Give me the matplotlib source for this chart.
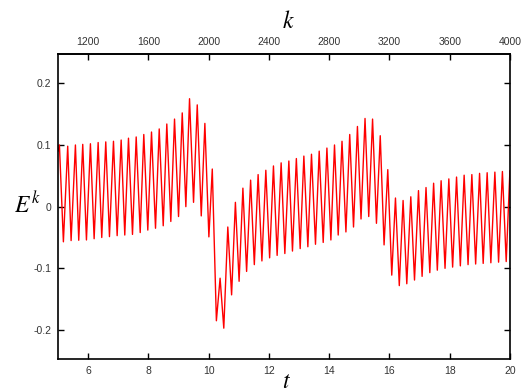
import numpy as np
import matplotlib
matplotlib.use('Agg')
import matplotlib.pyplot as plt

plt.rcParams['mathtext.fontset'] = 'stix'
plt.rcParams['font.family'] = ['Liberation Sans', 'DejaVu Sans']

# curve: start point, then the local maxima and minima
t_start = [5.0]
e_start = [0.090]

t_peak = [5.047, 5.322, 5.578, 5.821, 6.076, 6.332, 6.585, 6.841, 7.096, 7.339,
          7.595, 7.847, 8.103, 8.359, 8.611, 8.867, 9.123, 9.365, 9.621, 9.874,
          10.120, 10.379, 10.635, 10.887, 11.136, 11.392, 11.641, 11.897, 12.150, 12.405,
          12.661, 12.910, 13.159, 13.412, 13.668, 13.924, 14.176, 14.425, 14.681, 14.937,
          15.189, 15.439, 15.694, 15.944, 16.199, 16.452, 16.708, 16.963, 17.213, 17.465,
          17.714, 17.970, 18.226, 18.478, 18.734, 18.990, 19.242, 19.498, 19.748, 19.997]
e_peak = [0.100, 0.098, 0.100, 0.101, 0.102, 0.104, 0.105, 0.106, 0.108, 0.111,
          0.113, 0.117, 0.121, 0.126, 0.134, 0.142, 0.152, 0.175, 0.165, 0.135,
          0.061, -0.116, -0.033, 0.007, 0.030, 0.043, 0.052, 0.059, 0.066, 0.071,
          0.074, 0.078, 0.082, 0.085, 0.090, 0.095, 0.100, 0.106, 0.117, 0.130,
          0.143, 0.142, 0.115, 0.060, 0.014, 0.010, 0.016, 0.026, 0.031, 0.038,
          0.042, 0.045, 0.048, 0.051, 0.052, 0.054, 0.055, 0.056, 0.057, 0.058]

t_trough = [5.179, 5.435, 5.688, 5.944, 6.199, 6.452, 6.708, 6.963, 7.216, 7.472,
            7.728, 7.980, 8.236, 8.492, 8.744, 9.000, 9.243, 9.498, 9.754, 10.007,
            10.256, 10.502, 10.761, 11.010, 11.259, 11.515, 11.767, 12.023, 12.272, 12.528,
            12.781, 13.037, 13.292, 13.545, 13.801, 14.056, 14.299, 14.555, 14.807, 15.056,
            15.312, 15.568, 15.821, 16.076, 16.326, 16.575, 16.831, 17.083, 17.339, 17.588,
            17.844, 18.096, 18.352, 18.608, 18.860, 19.110, 19.365, 19.621, 19.874]
e_trough = [-0.057, -0.055, -0.0545, -0.054, -0.052, -0.050, -0.0486, -0.047, -0.046, -0.045,
            -0.042, -0.038, -0.035, -0.031, -0.024, -0.016, 0.000, 0.007, -0.015, -0.049,
            -0.185, -0.197, -0.143, -0.121, -0.105, -0.094, -0.088, -0.083, -0.079, -0.076,
            -0.072, -0.068, -0.065, -0.061, -0.058, -0.054, -0.046, -0.041, -0.033, -0.020,
            -0.016, -0.027, -0.062, -0.111, -0.128, -0.125, -0.119, -0.113, -0.107, -0.103,
            -0.100, -0.098, -0.096, -0.094, -0.093, -0.092, -0.091, -0.090, -0.089]

x_ticks = [6, 8, 10, 12, 14, 16, 18, 20]
k_ticks = [1200, 1600, 2000, 2400, 2800, 3200, 3600, 4000]
y_ticks = [-0.2, -0.1, 0, 0.1, 0.2]
y_labels = ['-0.2', '-0.1', '0', '0.1', '0.2']

t = np.concatenate([t_start, t_peak, t_trough])
e = np.concatenate([e_start, e_peak, e_trough])
order = np.argsort(t)

fig = plt.figure(figsize=(5.28, 3.92), dpi=100)
ax = fig.add_axes([58 / 528, 1 - 359 / 392, 452 / 528, 305 / 392])
ax.plot(t[order], e[order], color='red', lw=1.0, solid_joinstyle='round')

ax.set_xlim(5, 20)
ax.set_ylim(-0.247, 0.2475)
ax.set_xticks(x_ticks)
ax.set_yticks(y_ticks)
ax.set_yticklabels(y_labels)
ax.tick_params(direction='in', length=4, width=1, top=False, right=True,
               labelsize=7.5, labelcolor='#333333', pad=5)
for sp in ax.spines.values():
    sp.set_linewidth(1.2)

top = ax.secondary_xaxis('top', functions=(lambda x: 200 * x, lambda k: k / 200))
top.set_xticks(k_ticks)
top.tick_params(direction='in', length=4, width=1, labelsize=7.5,
                labelcolor='#333333', pad=5)
top.spines['top'].set_linewidth(1.2)

fig.text(288 / 528, 1 - 22 / 392, '$k$', fontsize=17, ha='center', va='center')
fig.text(287 / 528, 1 - 382 / 392, '$t$', fontsize=17, ha='center', va='center')
fig.text(27 / 528, 1 - 205 / 392, '$E^k$', fontsize=17, ha='center', va='center')

fig.savefig('out.png', dpi=100)
